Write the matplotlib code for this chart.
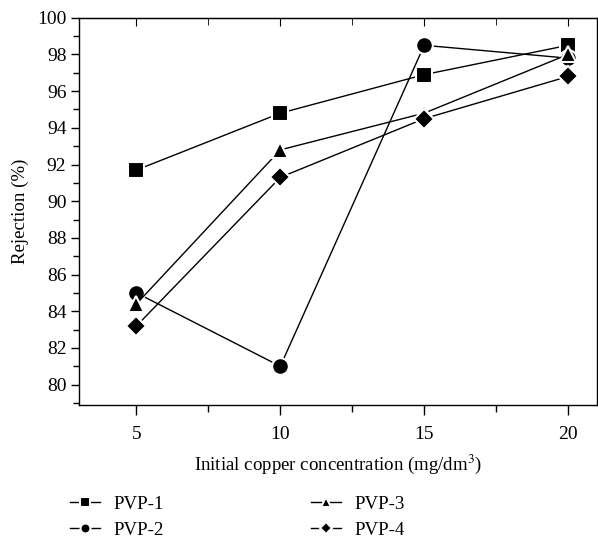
import matplotlib
matplotlib.use("Agg")
import matplotlib.pyplot as plt
from matplotlib.ticker import MultipleLocator

plt.rcParams['font.family'] = ['Liberation Serif', 'DejaVu Serif']
plt.rcParams['mathtext.fontset'] = 'stix'

# data
conc = [5, 10, 15, 20]
pvp1 = [91.7, 94.8, 96.9, 98.5]
pvp2 = [85.0, 81.0, 98.5, 97.8]
pvp3 = [84.4, 92.8, 94.8, 98.0]
pvp4 = [83.2, 91.3, 94.5, 96.8]
names = ['PVP-1', 'PVP-2', 'PVP-3', 'PVP-4']
markers = ['s', 'o', '^', 'D']
msizes = [11, 12, 12, 10]

fig = plt.figure(figsize=(5.98, 5.39), dpi=100)
ax = fig.add_axes([0.132, 0.249, 0.866, 0.718])

for vals, name, mk, ms in zip([pvp1, pvp2, pvp3, pvp4], names, markers, msizes):
    ax.plot(conc, vals, color='black', lw=1.0, marker=mk, ms=ms,
            markerfacecolor='black', markeredgecolor='white', markeredgewidth=1.5,
            label=name)

ax.set_xlim(3, 21)
ax.set_ylim(78.9, 100)
ax.xaxis.set_major_locator(MultipleLocator(5))
ax.xaxis.set_minor_locator(MultipleLocator(2.5))
ax.yaxis.set_major_locator(MultipleLocator(2))
ax.yaxis.set_minor_locator(MultipleLocator(1))
ax.tick_params(which='both', direction='out', labelsize=14, width=1.0)
ax.tick_params(axis='x', which='major', length=7, pad=8)
ax.tick_params(axis='x', which='minor', length=5)
ax.tick_params(axis='y', which='major', length=6, pad=3)
ax.tick_params(axis='y', which='minor', length=4)

# inward ticks along the top edge
top = ax.secondary_xaxis('top')
top.xaxis.set_major_locator(MultipleLocator(5))
top.xaxis.set_minor_locator(MultipleLocator(2.5))
top.tick_params(which='both', direction='in', labeltop=False, length=6)
top.tick_params(which='minor', length=5)

for s in ax.spines.values():
    s.set_linewidth(1.0)

ax.set_xlabel('Initial copper concentration (mg/dm$^3$)', fontsize=13.6, labelpad=7)
ax.set_ylabel('Rejection (%)', fontsize=13.6, labelpad=6)

handles, labels = ax.get_legend_handles_labels()
fig.legend(handles, labels, loc='upper left', bbox_to_anchor=(0.117, 0.08),
           ncol=2, frameon=False, fontsize=13.6, markerscale=0.6,
           handlelength=1.6, handletextpad=0.7, columnspacing=7.8,
           labelspacing=0.45, borderpad=0,
           bbox_transform=fig.transFigure, borderaxespad=0)

fig.savefig('out.png', dpi=100)
